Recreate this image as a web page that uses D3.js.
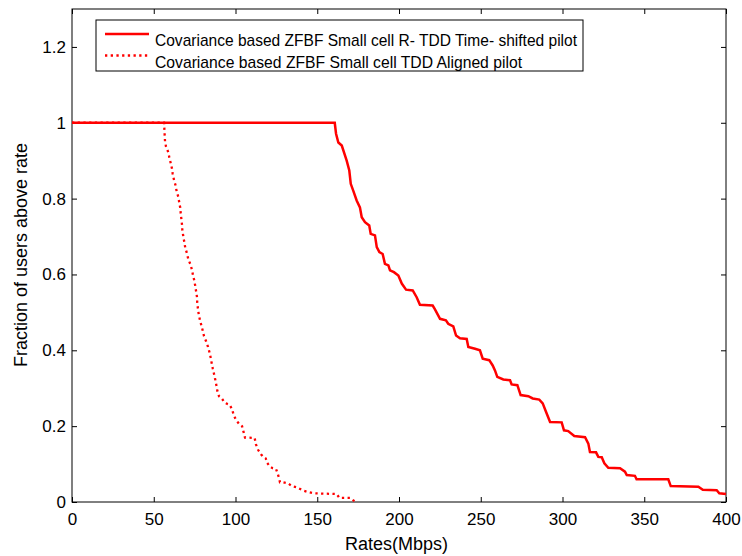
<!DOCTYPE html>
<html>
<head>
<meta charset="utf-8">
<script src="https://cdn.jsdelivr.net/npm/d3@7"></script>
<style>
  body { margin: 0; background: #fff; }
  svg { display: block; font-family: "Liberation Sans", Arial, sans-serif; }
</style>
</head>
<body>
<svg id="chart" width="742" height="556"></svg>
<script>
// ---- data ----
const seriesNames = [
  "Covariance based ZFBF Small cell R- TDD Time- shifted pilot",
  "Covariance based ZFBF Small cell TDD Aligned pilot"
];
const solidRates = [0, 160.7, 161.5, 162.9, 165.0, 168.0, 169.6, 170.5, 172.0, 174.1, 176.1, 177.2, 179.2, 181.8, 182.7, 185.3, 186.4, 188.0, 190.0, 191.4, 193.5, 194.5, 196.9, 199.6, 201.7, 204.3, 208.4, 210.8, 212.8, 220.6, 222.0, 225.1, 228.7, 230.1, 233.2, 234.9, 237.3, 241.4, 242.4, 246.5, 249.5, 251.2, 255.2, 257.3, 258.7, 260.1, 263.8, 267.9, 268.9, 272.4, 274.4, 279.1, 281.8, 285.8, 287.9, 289.9, 292.4, 299.5, 300.9, 303.5, 307.2, 313.8, 315.8, 316.8, 320.5, 321.9, 324.0, 325.6, 328.0, 335.2, 338.2, 339.3, 344.3, 345.3, 364.7, 366.2, 383.1, 385.8, 394.3, 395.9, 400];
const solidFrac = [1, 1, 0.971, 0.948, 0.94, 0.90, 0.874, 0.839, 0.821, 0.795, 0.777, 0.751, 0.738, 0.729, 0.707, 0.703, 0.672, 0.659, 0.654, 0.628, 0.624, 0.611, 0.606, 0.597, 0.576, 0.56, 0.558, 0.54, 0.52, 0.518, 0.508, 0.483, 0.479, 0.47, 0.463, 0.439, 0.432, 0.43, 0.409, 0.404, 0.40, 0.378, 0.374, 0.36, 0.347, 0.33, 0.323, 0.321, 0.31, 0.308, 0.282, 0.279, 0.273, 0.27, 0.26, 0.238, 0.211, 0.21, 0.189, 0.187, 0.174, 0.171, 0.154, 0.132, 0.131, 0.119, 0.118, 0.102, 0.09, 0.089, 0.08, 0.071, 0.069, 0.06, 0.06, 0.042, 0.04, 0.032, 0.031, 0.023, 0.021];
const dottedRates = [0, 56.3, 56.5, 56.7, 56.9, 57.5, 58.9, 59.5, 60.4, 61.2, 61.6, 62.4, 63.4, 64.0, 65.0, 65.6, 66.2, 66.5, 66.9, 67.3, 67.5, 68.1, 68.7, 69.3, 70.3, 71.1, 72.4, 73.4, 74.0, 74.8, 75.4, 76.0, 76.5, 76.6, 77.5, 78.3, 79.1, 79.9, 80.7, 82.0, 83.2, 84.0, 84.8, 85.4, 86.1, 86.9, 87.6, 88.3, 88.9, 89.9, 91.6, 93.6, 96.2, 97.9, 98.7, 100.1, 102.0, 104.0, 104.8, 105.8, 111.7, 112.5, 113.9, 115.6, 117.0, 118.5, 119.4, 121.1, 122.8, 124.8, 125.6, 126.6, 127.2, 129.2, 132.3, 134.4, 137.4, 141.5, 144.5, 147.6, 161.9, 163.5, 170.0, 172.5, 173.7];
const dottedFrac = [1, 1, 0.984, 0.966, 0.951, 0.937, 0.922, 0.909, 0.893, 0.878, 0.865, 0.849, 0.834, 0.819, 0.805, 0.79, 0.776, 0.761, 0.746, 0.731, 0.716, 0.70, 0.685, 0.670, 0.656, 0.641, 0.627, 0.612, 0.598, 0.584, 0.569, 0.553, 0.539, 0.524, 0.495, 0.479, 0.466, 0.453, 0.438, 0.424, 0.409, 0.396, 0.381, 0.367, 0.352, 0.337, 0.323, 0.308, 0.293, 0.279, 0.273, 0.261, 0.257, 0.245, 0.232, 0.218, 0.207, 0.20, 0.187, 0.170, 0.169, 0.152, 0.137, 0.126, 0.119, 0.115, 0.103, 0.093, 0.089, 0.087, 0.077, 0.064, 0.052, 0.052, 0.049, 0.042, 0.039, 0.030, 0.026, 0.023, 0.021, 0.011, 0.011, 0.003, 0];
const xTicks = [0, 50, 100, 150, 200, 250, 300, 350, 400];
const yTicks = [0, 0.2, 0.4, 0.6, 0.8, 1, 1.2];
const xLabel = "Rates(Mbps)";
const yLabel = "Fraction of users above rate";

// ---- layout ----
const L = 72, R = 726, T = 9, B = 502;
const svg = d3.select("#chart");
const x = d3.scaleLinear().domain([0, 400]).range([L, R]);
const y = d3.scaleLinear().domain([0, 1.3]).range([B, T]);

const fmtY = d => (d === 0 ? "0" : d3.format("~g")(d));

// axes
const ax = [
  svg.append("g").attr("transform", `translate(0,${B})`)
    .call(d3.axisBottom(x).tickValues(xTicks).tickSizeInner(-5).tickSizeOuter(0).tickPadding(11)),
  svg.append("g").attr("transform", `translate(0,${T})`)
    .call(d3.axisTop(x).tickValues(xTicks).tickSizeInner(-5).tickSizeOuter(0).tickFormat("")),
  svg.append("g").attr("transform", `translate(${L},0)`)
    .call(d3.axisLeft(y).tickValues(yTicks).tickSizeInner(-5).tickSizeOuter(0).tickPadding(6).tickFormat(fmtY)),
  svg.append("g").attr("transform", `translate(${R},0)`)
    .call(d3.axisRight(y).tickValues(yTicks).tickSizeInner(-5).tickSizeOuter(0).tickFormat(""))
];
ax.forEach(g => {
  g.select(".domain").remove();
  g.selectAll("text").attr("font-size", 17).attr("fill", "#000")
    .attr("font-family", '"Liberation Sans", Arial, sans-serif');
  g.selectAll("line").attr("stroke", "#000");
});

svg.append("rect").attr("x", L).attr("y", T).attr("width", R - L).attr("height", B - T)
  .attr("fill", "none").attr("stroke", "#000").attr("stroke-width", 1);

// lines
const line = d3.line().x(d => x(d[0])).y(d => y(d[1]));
const solidData = solidRates.map((r, i) => [r, solidFrac[i]]);
const dottedData = dottedRates.map((r, i) => [r, dottedFrac[i]]);

svg.append("path").datum(dottedData).attr("d", line)
  .attr("fill", "none").attr("stroke", "#ff0000").attr("stroke-width", 2.3)
  .attr("stroke-dasharray", "2.3,3.4");
svg.append("path").datum(solidData).attr("d", line)
  .attr("fill", "none").attr("stroke", "#ff0000").attr("stroke-width", 2.5)
  .attr("stroke-linejoin", "miter");

// axis titles
svg.append("text").attr("x", 396.5).attr("y", 550).attr("text-anchor", "middle")
  .attr("font-size", 18).text(xLabel);
svg.append("text").attr("transform", `translate(26.5,255) rotate(-90)`)
  .attr("text-anchor", "middle").attr("font-size", 18).text(yLabel);

// legend
const lg = svg.append("g");
lg.append("rect").attr("x", 96).attr("y", 20).attr("width", 487).attr("height", 51)
  .attr("fill", "#fff").attr("stroke", "#000").attr("stroke-width", 1);
lg.append("line").attr("x1", 105).attr("x2", 149).attr("y1", 34).attr("y2", 34)
  .attr("stroke", "#ff0000").attr("stroke-width", 2.5);
lg.append("line").attr("x1", 105).attr("x2", 149).attr("y1", 55.5).attr("y2", 55.5)
  .attr("stroke", "#ff0000").attr("stroke-width", 2.3).attr("stroke-dasharray", "2.3,3.4");
lg.append("text").attr("x", 155).attr("y", 45.5).attr("font-size", 17)
  .attr("textLength", 422).attr("lengthAdjust", "spacingAndGlyphs").text(seriesNames[0]);
lg.append("text").attr("x", 155).attr("y", 67.5).attr("font-size", 17)
  .attr("textLength", 367).attr("lengthAdjust", "spacingAndGlyphs").text(seriesNames[1]);
</script>
</body>
</html>
